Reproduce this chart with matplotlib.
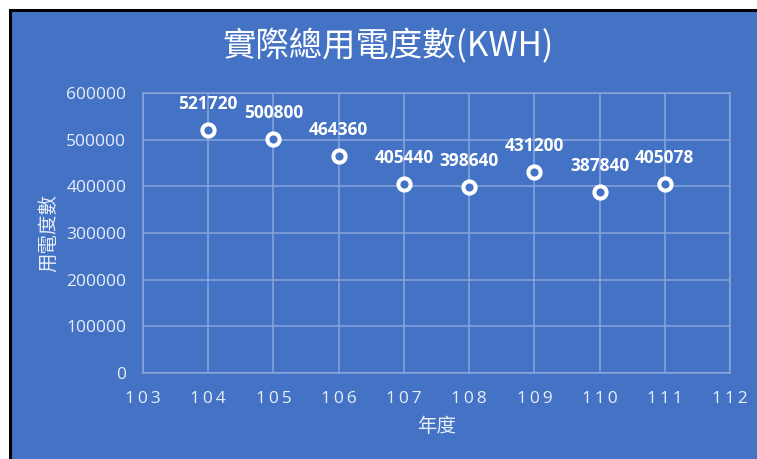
import matplotlib
matplotlib.use("Agg")
import matplotlib.pyplot as plt
from matplotlib.patches import Rectangle
from matplotlib.lines import Line2D

plt.rcParams['font.family'] = ['Noto Sans CJK TC', 'DejaVu Sans']

years = [104, 105, 106, 107, 108, 109, 110, 111]
usage = [521720, 500800, 464360, 405440, 398640, 431200, 387840, 405078]
xticks = list(range(103, 113))
yticks = [0, 100000, 200000, 300000, 400000, 500000, 600000]
title = "實際總用電度數(KWH)"
xlabel = "年度"
ylabel = "用電度數"

W, H = 757, 459
fig = plt.figure(figsize=(W / 100, H / 100), dpi=100)
fig.patch.set_facecolor('white')
blue = '#4472C4'
# blue panel with black border on top/left
fig.patches.append(Rectangle((11 / W, 0), 1 - 11 / W, 1 - 11 / H, transform=fig.transFigure,
                             facecolor=blue, edgecolor='none', zorder=-10))
fig.lines.append(Line2D([10 / W, 10 / W], [0, 1 - 10 / H], transform=fig.transFigure, color='black', lw=2.2, zorder=-5))
fig.lines.append(Line2D([10 / W, 1], [1 - 10 / H, 1 - 10 / H], transform=fig.transFigure, color='black', lw=2.2, zorder=-5))

ax = fig.add_axes([143 / W, 1 - 373 / H, (730 - 143) / W, (373 - 93) / H])
ax.set_facecolor('none')
ax.set_xlim(103, 112)
ax.set_ylim(0, 600000)
ax.set_xticks(xticks)
ax.set_yticks(yticks)
ax.set_xticklabels(['\u2009'.join(str(t)) for t in xticks])
ax.set_yticklabels([str(t) for t in yticks])
grid_c = '#8AA6DA'
ax.grid(True, color=grid_c, lw=1.1)
ax.set_axisbelow(True)
for s in ax.spines.values():
    s.set_color(grid_c)
    s.set_linewidth(1.1)
ax.tick_params(length=0, colors='#E8EEF8', labelsize=12.5)
for lab in ax.get_xticklabels() + ax.get_yticklabels():
    lab.set_family(['Open Sans', 'DejaVu Sans'])
ax.tick_params(axis='y', pad=12)
ax.tick_params(axis='x', pad=13)

ax.plot(years, usage, linestyle='none', marker='o', ms=8.8, mfc=blue, mec='white', mew=2.9, zorder=5, clip_on=False)
for x, y in zip(years, usage):
    ax.annotate(str(y), (x, y), xytext=(0, 15), textcoords='offset points', ha='center', va='baseline',
                color='white', fontsize=12.5, fontweight='bold', family=['Open Sans', 'DejaVu Sans'])

fig.text(388 / W, 1 - 47 / H, title, ha='center', va='center', color='white', fontsize=24)
fig.text(437 / W, 1 - 427 / H, xlabel, ha='center', va='center', color='#E8EEF8', fontsize=14)
fig.text(49 / W, 1 - 233 / H, ylabel, ha='center', va='center', rotation=90, color='#E8EEF8', fontsize=14)

fig.savefig('out.png', dpi=100, facecolor='white')
